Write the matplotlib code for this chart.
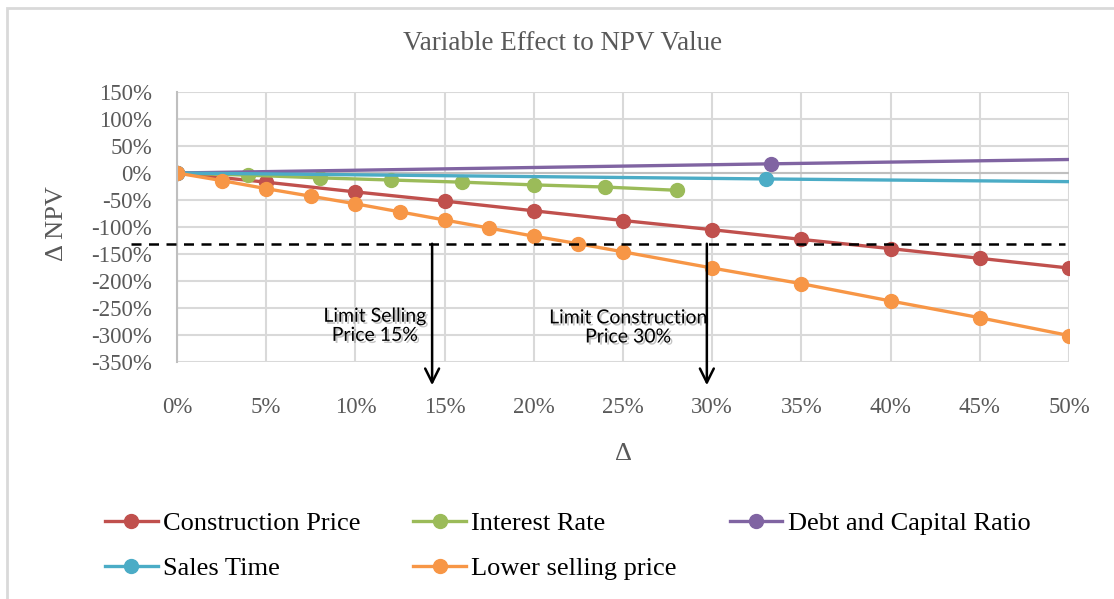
import numpy as np
import matplotlib.pyplot as plt
import matplotlib.patheffects as pe
from matplotlib.patches import Rectangle

# data (x in %, delta NPV in %)
construction_x = [0, 5, 10, 15, 20, 25, 30, 35, 40, 45, 50]
construction_y = [0, -17, -35, -52, -70, -88, -105, -123, -140, -158, -176]

interest_x = [0, 4, 8, 12, 16, 20, 24, 28]
interest_y = [0, -4, -9, -13, -17, -22, -26, -32]

debt_x = [0, 33.3, 50]
debt_y = [0, 17, 25]

sales_x = [0, 33, 50]
sales_y = [0, -11, -16]

selling_x = [0, 2.5, 5, 7.5, 10, 12.5, 15, 17.5, 20, 22.5, 25, 30, 35, 40, 45, 50]
selling_y = [0, -14, -29, -43, -57, -72, -87, -102, -117, -131, -146, -176, -205, -237, -268, -301]

limit_level = -131
limit_selling = 14.3
limit_construction = 29.7

xticks = list(range(0, 55, 5))
yticks = list(range(-350, 200, 50))

plt.rcParams['font.family'] = ['Liberation Serif', 'DejaVu Serif']

fig = plt.figure(figsize=(11.14, 5.99), dpi=100)
ax = fig.add_axes([177 / 1114, 1 - 362 / 599, 892 / 1114, 270 / 599])

fig.patches.append(Rectangle((7 / 1114, -0.1), 1.2, 1 - 8 / 599 + 0.1,
                             transform=fig.transFigure, fill=False,
                             edgecolor='#d9d9d9', linewidth=2))

lw = 2.4
ms = 10
l_con, = ax.plot(construction_x, construction_y, color='#c0504d', lw=lw, marker='o', ms=ms, label='Construction Price')
l_int, = ax.plot(interest_x, interest_y, color='#9bbb59', lw=lw, marker='o', ms=ms, label='Interest Rate')
l_debt, = ax.plot(debt_x, debt_y, color='#8064a2', lw=lw, marker='o', ms=ms, markevery=[0, 1], label='Debt and Capital Ratio')
l_sales, = ax.plot(sales_x, sales_y, color='#4bacc6', lw=lw, marker='o', ms=ms, markevery=[0, 1], label='Sales Time')
l_sell, = ax.plot(selling_x, selling_y, color='#f79646', lw=lw, marker='o', ms=ms, label='Lower selling price')

ax.set_xlim(0, 50)
ax.set_ylim(-350, 150)
ax.set_xticks(xticks)
ax.set_yticks(yticks)
ax.set_xticklabels([f'{t}%' for t in xticks])
ax.set_yticklabels([f'{t}%' for t in yticks])
ax.tick_params(length=0, labelsize=16.5, labelcolor='#595959')
ax.tick_params(axis='x', pad=25)
ax.tick_params(axis='y', pad=18)
ax.grid(True, color='#d9d9d9', lw=1.5, zorder=0)
ax.set_axisbelow(True)
for s in ['top', 'right', 'bottom']:
    ax.spines[s].set_visible(False)
ax.spines['left'].set_color('#bfbfbf')
ax.spines['left'].set_linewidth(1.5)
ax.axhline(0, color='#bfbfbf', lw=1.5, zorder=1)

# limit line and arrows
ax.plot([-2.6, 49.8], [limit_level, limit_level], color='black', lw=1.8,
        ls=(0, (4, 3)), clip_on=False, zorder=5)
for xv in [limit_selling, limit_construction]:
    ax.annotate('', xy=(xv, -393), xytext=(xv, limit_level),
                arrowprops=dict(arrowstyle='->', color='black', lw=1.8,
                                mutation_scale=25, shrinkA=0, shrinkB=0),
                annotation_clip=False, zorder=6)

shadow = [pe.SimplePatchShadow(offset=(1.5, -1.5), shadow_rgbFace='#888888', alpha=0.5), pe.Normal()]
ax.text(11.1, -283, 'Limit Selling\nPrice 15%', ha='center', va='center', fontsize=14,
        family='Lato', linespacing=1.15, path_effects=shadow)
ax.text(25.3, -286, 'Limit Construction\nPrice 30%', ha='center', va='center', fontsize=14,
        family='Lato', linespacing=1.15, path_effects=shadow)

fig.text(563 / 1114, 1 - 43 / 599, 'Variable Effect to NPV Value', ha='center', va='center',
         fontsize=19.5, color='#595959')
ax.set_ylabel('Δ NPV', fontsize=19, color='#595959')
ax.yaxis.set_label_coords(-0.1225, 0.511)
ax.set_xlabel('Δ', fontsize=19, color='#595959')
ax.xaxis.set_label_coords(0.5, -0.30)

handles = [l_con, l_sales, l_int, l_sell, l_debt]
fig.legend(handles=handles, loc='upper left', bbox_to_anchor=(105 / 1114, 1 - 512 / 599), ncol=3,
           frameon=False, fontsize=19, handlelength=2.0, handletextpad=0.2,
           columnspacing=2.0, labelspacing=0.8, borderaxespad=0, borderpad=0)

fig.savefig('out.png', dpi=100)
